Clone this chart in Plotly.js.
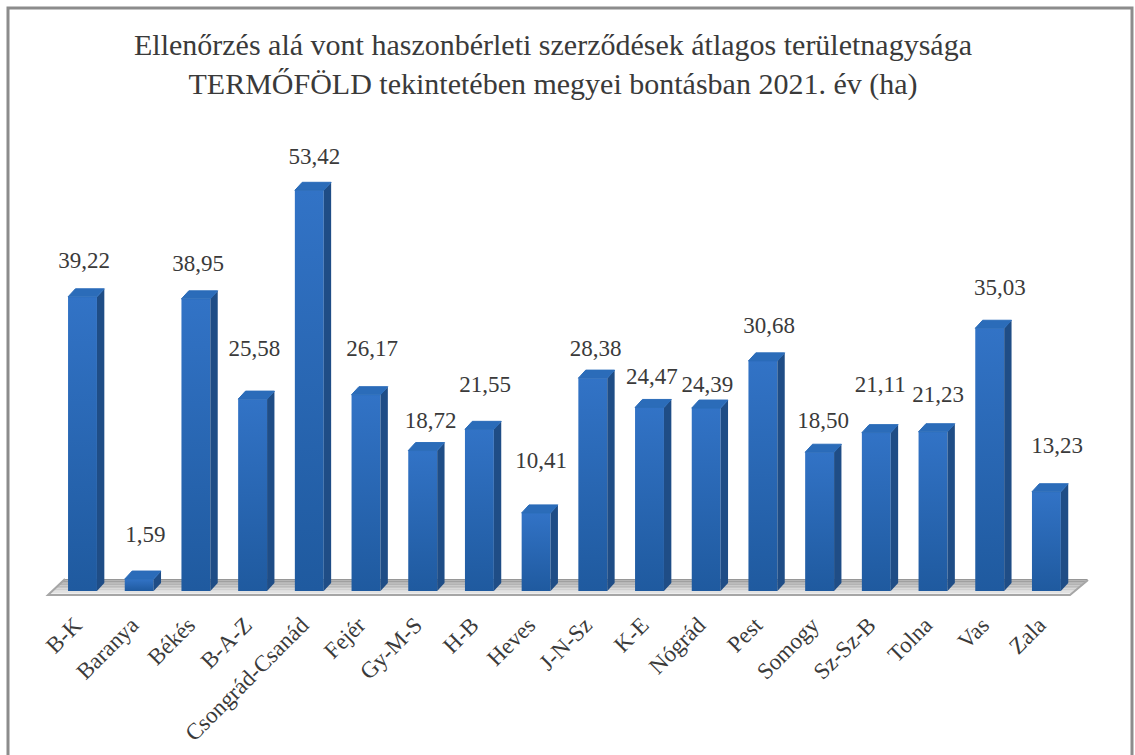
<!DOCTYPE html>
<html><head><meta charset="utf-8">
<script src="https://cdn.plot.ly/plotly-3.0.1.min.js"></script>
<style>html,body{margin:0;padding:0;background:#fff;overflow:hidden}</style></head>
<body><div id="chart" style="width:1135px;height:755px"></div>
<script>
const categories = ['B-K','Baranya','Békés','B-A-Z','Csongrád-Csanád','Fejér','Gy-M-S','H-B','Heves','J-N-Sz','K-E','Nógrád','Pest','Somogy','Sz-Sz-B','Tolna','Vas','Zala'];
const values = [39.22,1.59,38.95,25.58,53.42,26.17,18.72,21.55,10.41,28.38,24.47,24.39,30.68,18.50,21.11,21.23,35.03,13.23];
const labelHeights = [43.87,7.33,43.47,32.13,57.73,32.13,22.53,27.33,17.2,32.13,28.4,27.33,35.2,22.53,27.33,26,40.27,19.2];
const labelNudges = [.03,.11,.04,.03,.09,.11,.14,.10,.09,.05,.04,.02,.11,.06,.07,.09,.18,.19];
const titleText = 'Ellenőrzés alá vont haszonbérleti szerződések átlagos területnagysága<br>TERMŐFÖLD tekintetében megyei bontásban 2021. év (ha)';

const W=1135,H=755,L=40,R=1100,T=110,B=600;
const idx = categories.map((_,i)=>i);
const halfW=.255, dx=.13, dy=1.07;
const xMin=-0.7496, xMax=17.945, yMin=-1.2, yMax=64.13;
const serif='"Liberation Serif", serif', ink='#3a3a3a';

const sideX=[],sideY=[],topX=[],topY=[];
values.forEach((v,i)=>{
  const r=i+halfW,l=i-halfW;
  sideX.push(r,r+dx,r+dx,r,r,null); sideY.push(0,dy,v+dy,v,0,null);
  topX.push(l,l+dx,r+dx,r,l,null);  topY.push(v,v+dy,v+dy,v,v,null);
});

const traces=[
 {type:'bar',x:idx,y:values,width:.51,marker:{color:'#2a67b4',line:{width:0}},hoverinfo:'x+y',name:'front'},
 {type:'scatter',mode:'lines',x:sideX,y:sideY,fill:'toself',fillcolor:'#1f4d86',line:{width:0,color:'#1f4d86'},hoverinfo:'skip'},
 {type:'scatter',mode:'lines',x:topX,y:topY,fill:'toself',fillcolor:'#2b6cb9',line:{width:1,color:'#2b6cb9'},hoverinfo:'skip'},
 {type:'scatter',mode:'text',x:idx.map(i=>i+labelNudges[i]),y:labelHeights,
  text:values.map(v=>v.toFixed(2).replace('.',',')),textposition:'middle center',
  textfont:{family:serif,size:23,color:ink},hoverinfo:'skip'}
];

const floorShapes=[];
const xf=(px)=>xMin+(px-L)/(R-L)*(xMax-xMin), yf=(py)=>yMin+(B-py)/(B-T)*(yMax-yMin);
const bands=10;
for(let b=0;b<bands;b++){
  const t0=b/bands,t1=(b+1)/bands;
  const y0=579+16*t0,y1=579+16*t1;
  const lx0=65-17*t0,lx1=65-17*t1,rx0=1088-18*t0,rx1=1088-18*t1;
  const g=Math.round(150+95*t0);
  floorShapes.push({type:'path',xref:'x',yref:'y',layer:'below',
    path:`M${xf(lx0)},${yf(y0)} L${xf(rx0)},${yf(y0)} L${xf(rx1)},${yf(y1)} L${xf(lx1)},${yf(y1)} Z`,
    fillcolor:`rgb(${g},${g},${g})`,line:{width:0}});
}
floorShapes.push({type:'path',xref:'x',yref:'y',layer:'below',
  path:`M${xf(65)},${yf(579)} L${xf(48)},${yf(595)} L${xf(1070)},${yf(595)} L${xf(1088)},${yf(580)}`,
  line:{color:'#a6a6a6',width:2},fillcolor:'rgba(0,0,0,0)'});
const px=(p)=>(p-L)/(R-L), py=(p)=>(B-p)/(B-T);
const frame={type:'rect',xref:'paper',yref:'paper',layer:'below',x0:px(8),x1:px(1132),y0:py(770),y1:py(8),line:{color:'#8c8c8c',width:3},fillcolor:'rgba(0,0,0,0)'};

const layout={width:W,height:H,showlegend:false,paper_bgcolor:'#fff',plot_bgcolor:'rgba(0,0,0,0)',
 margin:{l:L,r:W-R,t:T,b:H-B,pad:0},barmode:'overlay',
 title:{text:titleText,x:553/W,xanchor:'center',y:1-55/H,yanchor:'middle',font:{family:serif,size:30,color:ink}},
 xaxis:{type:'linear',range:[xMin,xMax],tickmode:'array',tickvals:idx.map(i=>i-0.13),ticktext:categories,tickangle:-45,showgrid:false,zeroline:false,showline:false,ticks:'',ticklabelstandoff:6,tickfont:{family:serif,size:23,color:ink}},
 yaxis:{range:[yMin,yMax],visible:false,showgrid:false,zeroline:false},
 shapes:[frame,...floorShapes]};

Plotly.newPlot('chart',traces,layout,{displayModeBar:false,staticPlot:true}).then(()=>{
  const svg=document.querySelector('#chart .main-svg');
  const ns='http://www.w3.org/2000/svg';
  const defs=document.createElementNS(ns,'defs');
  defs.innerHTML='<linearGradient id="barFace" x1="0" y1="0" x2="0" y2="1"><stop offset="0" stop-color="#3273c6"/><stop offset="1" stop-color="#1f5a9f"/></linearGradient>';
  svg.insertBefore(defs,svg.firstChild);
  document.querySelectorAll('#chart .bars .point path').forEach(p=>{p.style.fill='url(#barFace)';});
});
</script></body></html>
